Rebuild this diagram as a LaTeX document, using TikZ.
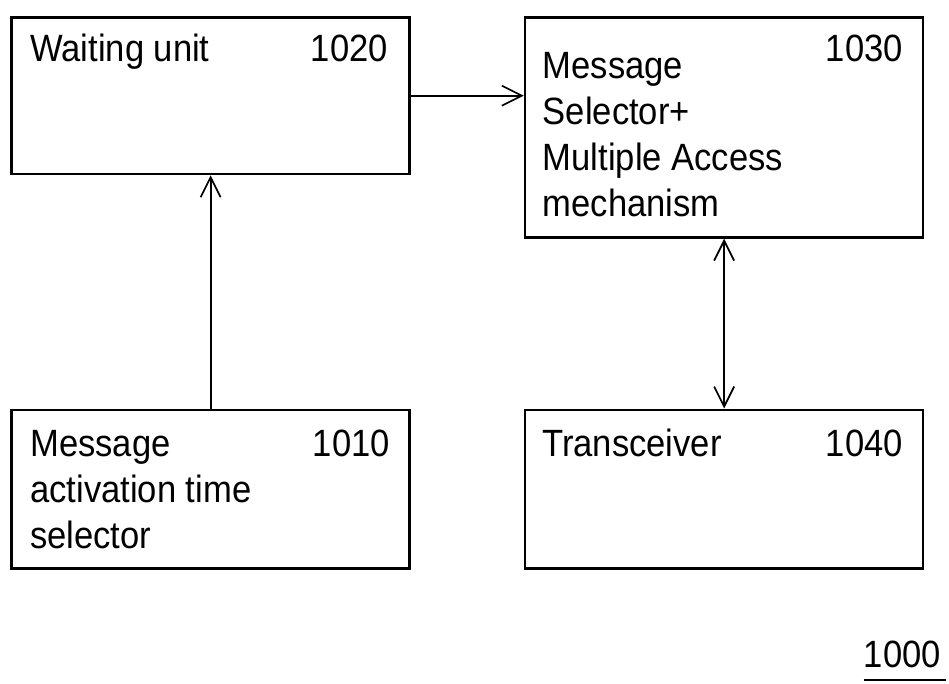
\documentclass[tikz,border=0pt]{standalone}
\usepackage{fontspec}
\setmainfont{Liberation Sans}[FakeStretch=0.91]
\usetikzlibrary{arrows.meta}
\begin{document}
\begin{tikzpicture}[x=0.75pt,y=-0.75pt,line join=miter,
    unit/.style={draw,line width=2pt,inner sep=0pt,anchor=north west,
      minimum width=298.5pt},
    txt/.style={inner sep=0pt,align=left,
      font=\fontsize{28.5}{34.5}\selectfont},
    link/.style={line width=1.3pt,-{Straight Barb[length=15pt,width=15pt]}},
    duplex/.style={line width=1.3pt,
      {Straight Barb[length=15pt,width=15pt]}-{Straight Barb[length=15pt,width=15pt]}}]
  \useasboundingbox (0,0) rectangle (949,684);
  % the four function blocks
  \node[unit,minimum height=117.5pt] (wait) at (10.3,16) {};
  \node[unit,minimum height=165pt] (msel) at (523.8,16) {};
  \node[unit,minimum height=119pt] (act) at (10.3,408.5) {};
  \node[unit,minimum height=119pt] (trx) at (523.8,408.5) {};
  % block titles (placed by their last line) and reference numerals
  \node[txt,anchor=base west] (waitname) at (30,62) {Waiting unit};
  \node[txt,anchor=base east] (waitnum) at (388,62) {1020};
  \node[txt,anchor=base west] (mselname) at (542.6,217)
    {Message\\Selector+\\Multiple Access\\mechanism};
  \node[txt,anchor=base east] (mselnum) at (903,62) {1030};
  \node[txt,anchor=base west] (actname) at (30,548)
    {Message\\activation time\\selector};
  \node[txt,anchor=base east] (actnum) at (390,456) {1010};
  \node[txt,anchor=base west] (trxname) at (542,456) {Transceiver};
  \node[txt,anchor=base east] (trxnum) at (903,456) {1040};
  \node[txt,anchor=base east] (sysnum) at (941,667) {1000};
  \draw[line width=2.2pt] ([yshift=-9.75pt]sysnum.base west)
    -- ([xshift=3.5pt,yshift=-9.75pt]sysnum.base east);
  % signal paths between the blocks
  \draw[link] (wait.east) -- (wait.east -| msel.west);
  \draw[link] (act.north) -- (act.north |- wait.south);
  \draw[duplex] (trx.north |- msel.south) -- (trx.north);
\end{tikzpicture}
\end{document}
